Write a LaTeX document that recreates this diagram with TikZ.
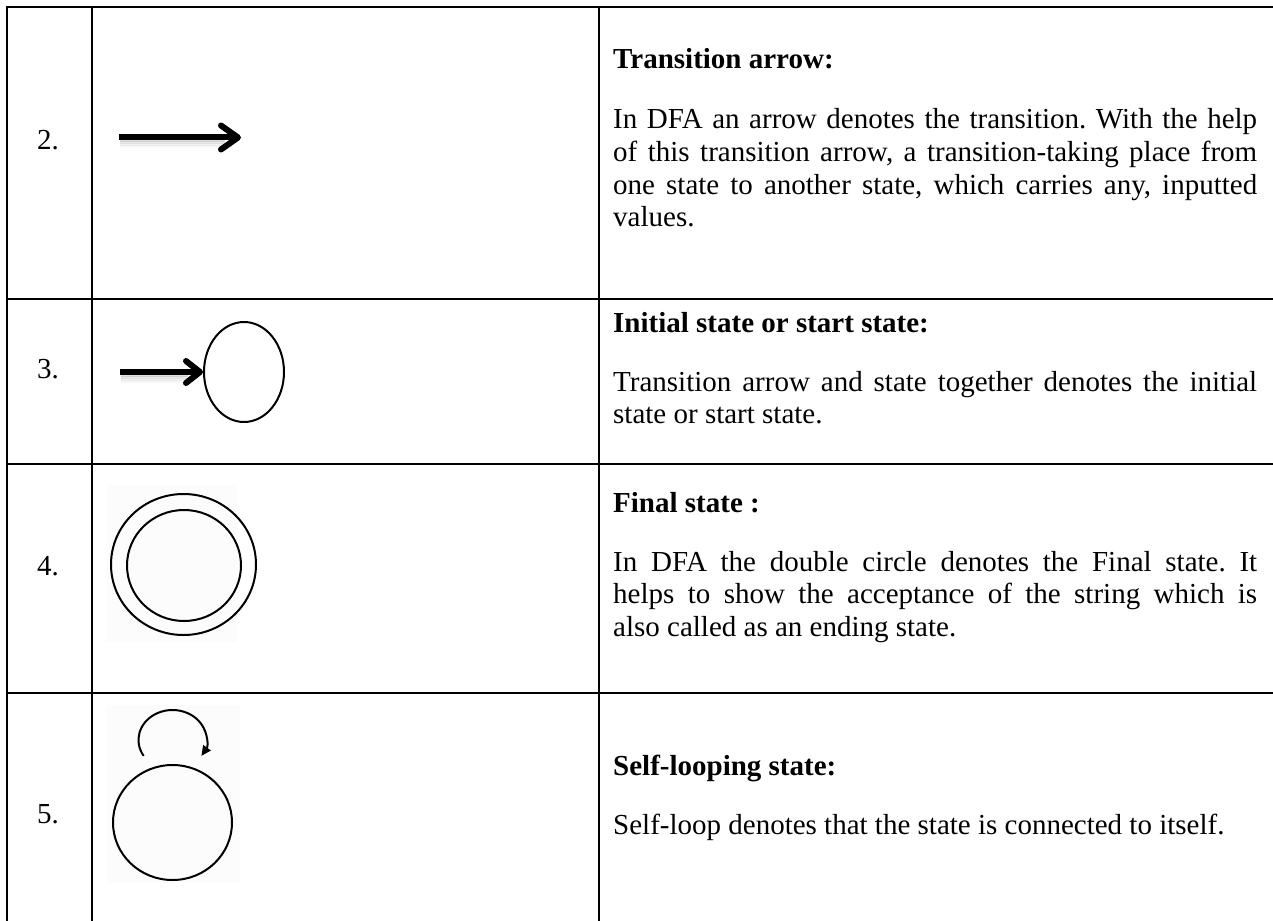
\documentclass[tikz,border=0pt]{standalone}
\usepackage{fontspec}
\setmainfont{Liberation Serif}
\usetikzlibrary{arrows.meta,shapes.geometric}
\begin{document}
\frenchspacing
\begin{tikzpicture}[x=1pt,y=-1pt,
  grid/.style={line width=2.6pt, line cap=rect},
  txt/.style={anchor=base west, inner sep=0pt, font=\fontsize{29}{32.5}\selectfont},
  head/.style={txt, font=\fontsize{29}{32.5}\selectfont\bfseries},
  sym/.style={draw, ellipse, line width=2pt, inner sep=0pt},
  fat/.style={line width=6pt, -{Straight Barb[round, length=17pt, width=24pt]}},
  fatsmall/.style={line width=6pt, -{Straight Barb[round, length=14pt, width=22pt]}},
  shade/.style={line width=3pt, black, opacity=.07},
  imgbg/.style={fill=black!1, draw=none}]
\useasboundingbox (0,0) rectangle (1273,920);
% faint picture backgrounds
\fill[imgbg] (106,485) rectangle (237,642);
\fill[imgbg] (106,705) rectangle (240,883);
% table
\draw[grid] (1285,7) -- (7,7) -- (7,935);
\draw[grid] (92,7) -- (92,935);
\draw[grid] (599,7) -- (599,935);
\draw[grid] (7,299) -- (1285,299);
\draw[grid] (7,464) -- (1285,464);
\draw[grid] (7,693) -- (1285,693);
% numbers
\node[txt] (n2) at (37,150) {2.};
\node[txt] (n3) at (37,378) {3.};
\node[txt] (n4) at (37,575) {4.};
\node[txt] (n5) at (37,823) {5.};
% row 2 text
\node[head] (h2) at (613,69) {Transition arrow:};
\node[txt] (t2a) at (613,129) {\makebox[644pt][s]{In DFA an arrow denotes the transition. With the help}};
\node[txt] (t2b) at (613,161.5) {\makebox[644pt][s]{of this transition arrow, a transition-taking place from}};
\node[txt] (t2c) at (613,194) {\makebox[644pt][s]{one state to another state, which carries any, inputted}};
\node[txt] (t2d) at (613,226.5) {values.};
% row 3 text
\node[head] (h3) at (613,332) {Initial state or start state:};
\node[txt] (t3a) at (613,391) {\makebox[644pt][s]{Transition arrow and state together denotes the initial}};
\node[txt] (t3b) at (613,423.5) {state or start state.};
% row 4 text
\node[head] (h4) at (613,512) {Final state :};
\node[txt] (t4a) at (613,571) {\makebox[644pt][s]{In DFA the double circle denotes the Final state. It}};
\node[txt] (t4b) at (613,603.5) {\makebox[644pt][s]{helps to show the acceptance of the string which is}};
\node[txt] (t4c) at (613,636) {also called as an ending state.};
% row 5 text
\node[head] (h5) at (613,775) {Self-looping state:};
\node[txt] (t5a) at (613,834) {Self-loop denotes that the state is connected to itself.};
% row 2 symbol: transition arrow
\coordinate (a2s) at (119,137.5);
\coordinate (a2e) at (241,137.5);
\foreach \d/\o in {3/.12,5/.08,7/.05,9/.03}
  \draw[shade, opacity=\o] (120,137.5+\d) -- (225,137.5+\d);
\draw[fat] (a2s) -- (a2e);
% row 3 symbol: initial state
\node[sym, minimum width=80pt, minimum height=100pt] (s3) at (244,372) {};
\coordinate (a3s) at (120,372);
\foreach \d/\o in {3/.12,5/.08,7/.05,9/.03}
  \draw[shade, opacity=\o] (121,372+\d) -- (188,372+\d);
\draw[fatsmall] (a3s) -- (s3.west);
% row 4 symbol: final state
\node[sym, minimum width=145pt, minimum height=141pt] (s4o) at (183.5,564.5) {};
\node[sym, minimum width=114pt, minimum height=111pt] (s4i) at (184,565.5) {};
% row 5 symbol: self loop
\node[sym, minimum width=119pt, minimum height=115pt] (s5) at (172.5,822.5) {};
\draw[line width=2pt, -{Triangle[length=10pt, width=9pt]}]
  (172.5,740) ++(148:34 and 30) arc[start angle=148, end angle=392, x radius=34, y radius=30];
\end{tikzpicture}
\end{document}
